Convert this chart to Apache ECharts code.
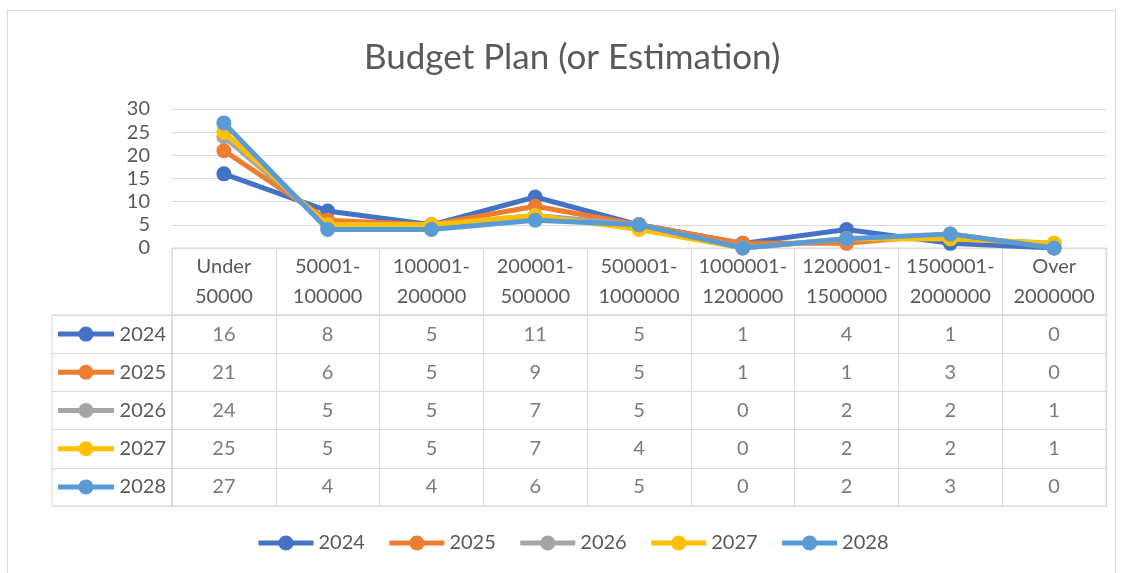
<!DOCTYPE html>
<html>
<head>
<meta charset="utf-8">
<script src="https://cdn.jsdelivr.net/npm/echarts@6/dist/echarts.min.js"></script>
<style>
html,body{margin:0;padding:0;background:#fff;}
#frame{position:absolute;left:7px;top:10px;width:1109px;height:620px;border:1px solid #d9d9d9;box-sizing:border-box;}
#chart{position:absolute;left:0;top:0;width:1122px;height:573px;}
</style>
</head>
<body>
<div id="frame"></div>
<div id="chart"></div>
<script>
const categories = ['Under\n50000','50001-\n100000','100001-\n200000','200001-\n500000','500001-\n1000000','1000001-\n1200000','1200001-\n1500000','1500001-\n2000000','Over\n2000000'];
const years = ['2024','2025','2026','2027','2028'];
const values2024 = [16, 8, 5, 11, 5, 1, 4, 1, 0];
const values2025 = [21, 6, 5, 9, 5, 1, 1, 3, 0];
const values2026 = [24, 5, 5, 7, 5, 0, 2, 2, 1];
const values2027 = [25, 5, 5, 7, 4, 0, 2, 2, 1];
const values2028 = [27, 4, 4, 6, 5, 0, 2, 3, 0];
const yMin = 0, yMax = 30, yStep = 5;
const colors = ['#4472C4', '#ED7D31', '#A5A5A5', '#FFC000', '#5B9BD5'];

const allValues = [values2024, values2025, values2026, values2027, values2028];
const FONT = 'Lato';
const TXT = '#595959';
const GRIDC = '#d9d9d9';

const series = [];
years.forEach((y, i) => {
  series.push({
    name: y, type: 'line', xAxisIndex: 0, yAxisIndex: 0,
    data: allValues[i], symbol: 'circle', symbolSize: 15, showSymbol: true,
    color: colors[i], lineStyle: { width: 5, color: colors[i] },
    itemStyle: { color: colors[i] }, emphasis: { disabled: true }, z: 3 + i
  });
});
// table values
const tableData = [];
years.forEach((y, i) => allValues[i].forEach((v, j) => tableData.push([j, i, v])));
series.push({
  name: 'tableValues', type: 'scatter', xAxisIndex: 2, yAxisIndex: 2,
  data: tableData, symbolSize: 0, silent: true,
  label: { show: true, position: 'inside', formatter: p => String(p.value[2]), color: TXT, fontSize: 20, fontFamily: FONT }
});
// key column
const keyX = [0.05, 0.283, 0.517];
years.forEach((y, i) => {
  series.push({
    name: 'key' + y, type: 'line', xAxisIndex: 3, yAxisIndex: 3, silent: true,
    data: keyX.map(x => [x, i]), symbol: 'circle',
    symbolSize: (v, p) => p.dataIndex === 1 ? 15 : 0, showSymbol: true,
    color: colors[i], lineStyle: { width: 5, color: colors[i] }, itemStyle: { color: colors[i] }
  });
});

const chart = echarts.init(document.getElementById('chart'), null, { renderer: 'canvas' });
chart.setOption({
  animation: false,
  textStyle: { fontFamily: FONT },
  title: {
    text: 'Budget Plan (or Estimation)', left: 359, top: 35,
    textStyle: { fontSize: 35, fontWeight: 'normal', color: TXT, fontFamily: FONT }
  },
  legend: {
    data: years, bottom: 15, left: 251, itemWidth: 55, itemHeight: 19, itemGap: 22,
    lineStyle: { width: 5 },
    textStyle: { fontSize: 20, color: TXT, fontFamily: FONT }
  },
  grid: [
    { left: 172, width: 934, top: 109, height: 139 },
    { left: 172, width: 934, top: 248, height: 67, show: true, borderColor: GRIDC, borderWidth: 1 },
    { left: 172, width: 934, top: 315, height: 191, show: true, borderColor: GRIDC, borderWidth: 1 },
    { left: 52, width: 120, top: 315, height: 191, show: true, borderColor: GRIDC, borderWidth: 1 }
  ],
  xAxis: [
    { gridIndex: 0, type: 'category', data: categories, boundaryGap: true,
      axisLine: { lineStyle: { color: GRIDC, width: 1 } }, axisTick: { show: false },
      axisLabel: { interval: 0, color: TXT, fontSize: 20, lineHeight: 30, margin: 4, fontFamily: FONT } },
    { gridIndex: 1, type: 'category', data: categories, boundaryGap: true,
      axisLine: { show: false }, axisTick: { show: false }, axisLabel: { show: false },
      splitLine: { show: true, interval: 0, lineStyle: { color: GRIDC, width: 1 } } },
    { gridIndex: 2, type: 'category', data: categories, boundaryGap: true,
      axisLine: { show: false }, axisTick: { show: false }, axisLabel: { show: false },
      splitLine: { show: true, interval: 0, lineStyle: { color: GRIDC, width: 1 } } },
    { gridIndex: 3, type: 'value', min: 0, max: 1, show: false }
  ],
  yAxis: [
    { gridIndex: 0, type: 'value', min: yMin, max: yMax, interval: yStep,
      axisLine: { show: false }, axisTick: { show: false },
      axisLabel: { color: TXT, fontSize: 20, margin: 22, fontFamily: FONT },
      splitLine: { lineStyle: { color: GRIDC, width: 1 } } },
    { gridIndex: 1, type: 'value', show: false },
    { gridIndex: 2, type: 'category', data: years, inverse: true,
      axisLine: { show: false }, axisTick: { show: false }, axisLabel: { show: false },
      splitLine: { show: true, interval: 0, lineStyle: { color: GRIDC, width: 1 } } },
    { gridIndex: 3, type: 'category', data: years, inverse: true, position: 'right',
      axisLine: { show: false }, axisTick: { show: false },
      axisLabel: { inside: true, margin: 6, color: TXT, fontSize: 20, fontFamily: FONT },
      splitLine: { show: true, interval: 0, lineStyle: { color: GRIDC, width: 1 } } }
  ],
  series: series
});
</script>
</body>
</html>
